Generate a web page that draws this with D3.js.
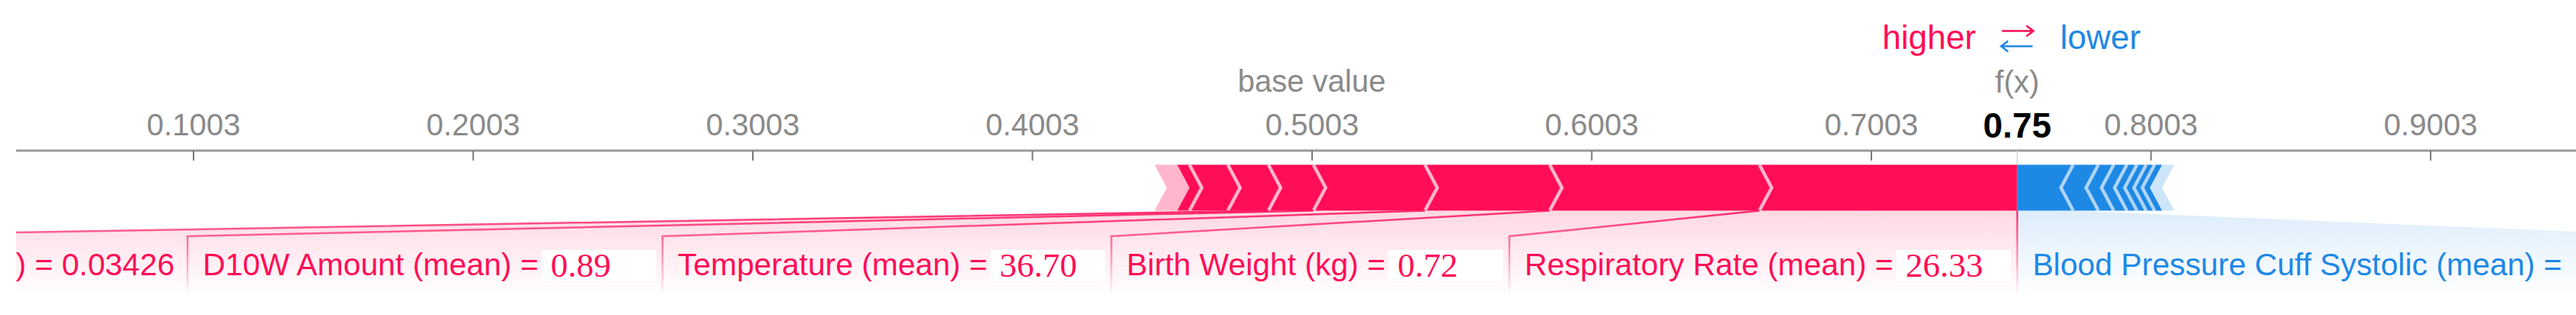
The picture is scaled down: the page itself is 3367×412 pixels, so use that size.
<!DOCTYPE html>
<html><head><meta charset="utf-8">
<script src="https://cdn.jsdelivr.net/npm/d3@7"></script>
<style>html,body{margin:0;padding:0;background:#fff;overflow:hidden}</style>
</head><body>
<svg id="chart" width="3367" height="412"></svg>
<script>
// ---------------- data ----------------
const baseValue = 0.5003;
const tickValues = [0.1003, 0.2003, 0.3003, 0.4003, 0.5003, 0.6003, 0.7003, 0.8003, 0.9003];

// features pushing the output higher, listed from f(x) leftwards
const posNames   = ["Respiratory Rate (mean)", "Birth Weight (kg)", "Temperature (mean)", "D10W Amount (mean)", "Lactate (mean)", "Feature 6", "Feature 7", "Feature 8"];
const posEffects = [0.0922, 0.0750, 0.0446, 0.0399, 0.0161, 0.0145, 0.0137, 0.0044];
const posValues  = ["26.33", "0.72", "36.70", "0.89", "0.03426", null, null, null];
const posOtherEffect = 0.0081;

// features pushing the output lower, listed from f(x) rightwards
const negNames   = ["Blood Pressure Cuff Systolic (mean)", "Feature 10", "Feature 11", "Feature 12", "Feature 13", "Feature 14", "Feature 15", "Feature 16"];
const negEffects = [0.0200, 0.0090, 0.0055, 0.0047, 0.0036, 0.0033, 0.0030, 0.0027];
const negValues  = [null, null, null, null, null, null, null, null];
const negOtherEffect = 0.0044;

// labels whose value was re-typed over a white patch in the reference
const retypedLabels = ["Respiratory Rate (mean)", "Birth Weight (kg)", "Temperature (mean)", "D10W Amount (mean)", "Blood Pressure Cuff Systolic (mean)"];
const labelThreshold = 0.015;

// ---------------- layout / style ----------------
const W = 3367, H = 412;
const RED = "#ff0d57", BLUE = "#1e88e5";
const SANS = "'Liberation Sans', Arial, Helvetica, sans-serif";
const SERIF = "'Liberation Serif', 'Times New Roman', serif";
const AXIS_Y = 197, BAR_TOP = 215.5, BAR_H = 60, TIP = 16;
const BAR_BOT = BAR_TOP + BAR_H, MID = BAR_TOP + BAR_H / 2;
const BOX_TOP = 309, FADE_END = 386, LABEL_Y = 360;
const LABEL_FS = 40.8, PADL = 20, GAP = 4, SLOT = 141, PADR = 17;

const svg = d3.select("#chart");
const x = d3.scaleLinear().domain([baseValue - 0.4, baseValue + 0.4]).range([252.5, 3176.5]);

const pos = posNames.map((name, i) => ({name, effect: posEffects[i], value: posValues[i]}));
const neg = negNames.map((name, i) => ({name, effect: negEffects[i], value: negValues[i]}));
const P = d3.sum(posEffects) + posOtherEffect;
const N = d3.sum(negEffects) + negOtherEffect;
const fx = baseValue + P - N;

let acc = fx;
pos.forEach(d => { d.hi = acc; d.lo = acc - d.effect; acc = d.lo; });
const posOther = {lo: acc - posOtherEffect, hi: acc};
acc = fx;
neg.forEach(d => { d.lo = acc; d.hi = acc + d.effect; acc = d.hi; });
const negOther = {lo: acc, hi: acc + negOtherEffect};
const fxX = x(fx);

// defs
const defs = svg.append("defs");
defs.append("clipPath").attr("id", "clip").append("rect")
  .attr("x", 21).attr("y", 0).attr("width", W - 21).attr("height", H);
function vgrad(id, color, o1) {
  const g = defs.append("linearGradient").attr("id", id).attr("gradientUnits", "userSpaceOnUse")
    .attr("x1", 0).attr("x2", 0).attr("y1", BAR_BOT).attr("y2", FADE_END);
  g.append("stop").attr("offset", 0).attr("stop-color", color).attr("stop-opacity", o1);
  g.append("stop").attr("offset", 1).attr("stop-color", color).attr("stop-opacity", 0);
}
vgrad("posFill", RED, 0.16);
vgrad("negFill", BLUE, 0.15);
vgrad("posLine", RED, 0.85);

// ---------------- axis ----------------
const gClip = svg.append("g").attr("clip-path", "url(#clip)");
gClip.append("line").attr("x1", 0).attr("x2", W).attr("y1", AXIS_Y).attr("y2", AXIS_Y)
  .attr("stroke", "#9a9a9a").attr("stroke-width", 3);

const axis = d3.axisBottom(x).tickValues(tickValues).tickFormat(d3.format(".4f")).tickSize(13);
const gAxis = svg.append("g").attr("transform", `translate(0,${AXIS_Y})`).call(axis);
gAxis.select(".domain").remove();
gAxis.attr("font-family", SANS).attr("font-size", 40);
gAxis.selectAll(".tick line").attr("stroke", "#7a7a7a").attr("stroke-width", 2);
gAxis.selectAll(".tick text").attr("y", -20).attr("dy", 0).attr("fill", "#8a8a8a");

// join line at f(x) between axis and bar
svg.append("line").attr("x1", fxX).attr("x2", fxX).attr("y1", AXIS_Y).attr("y2", BAR_TOP)
  .attr("stroke", "#d6d6d6").attr("stroke-width", 1.5);

// ---------------- bar ----------------
function posPath(a, b, flatRight) {
  return `M${a},${BAR_TOP}L${b},${BAR_TOP}` +
    (flatRight ? `L${b},${BAR_BOT}` : `L${b + TIP},${MID}L${b},${BAR_BOT}`) +
    `L${a},${BAR_BOT}L${a + TIP},${MID}Z`;
}
function negPath(a, b, flatLeft) {
  return `M${a},${BAR_TOP}L${b},${BAR_TOP}L${b - TIP},${MID}L${b},${BAR_BOT}L${a},${BAR_BOT}` +
    (flatLeft ? "" : `L${a - TIP},${MID}`) + "Z";
}
const gBar = svg.append("g");
gBar.append("path").attr("d", posPath(x(posOther.lo), x(posOther.hi), false))
  .attr("fill", RED).attr("fill-opacity", 0.3);
gBar.selectAll("path.pos").data(pos).join("path").attr("class", "pos")
  .attr("d", (d, i) => posPath(x(d.lo), x(d.hi), i === 0)).attr("fill", RED);
gBar.append("path").attr("d", negPath(x(negOther.lo), x(negOther.hi), false))
  .attr("fill", BLUE).attr("fill-opacity", 0.22);
gBar.selectAll("path.neg").data(neg).join("path").attr("class", "neg")
  .attr("d", (d, i) => negPath(x(d.lo), x(d.hi), i === 0)).attr("fill", BLUE);

// separators
gBar.selectAll("path.psep").data(pos.slice(0, pos.length - 1)).join("path").attr("class", "psep")
  .attr("d", d => { const b = x(d.lo); return `M${b},${BAR_TOP}L${b + TIP},${MID}L${b},${BAR_BOT}`; })
  .attr("fill", "none").attr("stroke", "#fff").attr("stroke-opacity", 0.68).attr("stroke-width", 4.5);
gBar.selectAll("path.nsep").data(neg.slice(0, neg.length - 1)).join("path").attr("class", "nsep")
  .attr("d", d => { const b = x(d.hi); return `M${b},${BAR_TOP}L${b - TIP},${MID}L${b},${BAR_BOT}`; })
  .attr("fill", "none").attr("stroke", "#fff").attr("stroke-opacity", 0.62).attr("stroke-width", 4.5);

// ---------------- labels layout ----------------
const meas = svg.append("text").attr("font-family", SANS).attr("font-size", LABEL_FS).attr("visibility", "hidden");
function textW(s) { meas.text(s); return meas.node().getComputedTextLength(); }
function prep(d) {
  d.retyped = retypedLabels.includes(d.name);
  d.nameStr = d.retyped ? d.name + " =" : d.name + " = " + d.value;
  d.nameW = textW(d.nameStr);
  d.boxW = PADL + (d.retyped ? d.nameW + GAP + SLOT : d.nameW) + PADR;
}
const posLab = pos.filter(d => d.effect >= labelThreshold);
const negLab = neg.filter(d => d.effect >= labelThreshold);
let cur = fxX;
posLab.forEach(d => { prep(d); d.boxR = cur; d.boxL = cur - d.boxW; cur = d.boxL; });
cur = fxX;
negLab.forEach(d => { prep(d); d.boxL = cur; d.boxR = cur + d.boxW; cur = d.boxR; });
meas.remove();

const gLab = svg.append("g").attr("clip-path", "url(#clip)");
// backings
gLab.selectAll("path.pback").data(posLab).join("path").attr("class", "pback")
  .attr("d", d => `M${x(d.lo)},${BAR_BOT}L${x(d.hi)},${BAR_BOT}L${d.boxR},${BOX_TOP}L${d.boxR},${FADE_END}L${d.boxL},${FADE_END}L${d.boxL},${BOX_TOP}Z`)
  .attr("fill", "url(#posFill)");
gLab.selectAll("path.nback").data(negLab).join("path").attr("class", "nback")
  .attr("d", d => `M${x(d.lo)},${BAR_BOT}L${x(d.hi)},${BAR_BOT}L${d.boxR},${BOX_TOP}L${d.boxR},${FADE_END}L${d.boxL},${FADE_END}L${d.boxL},${BOX_TOP}Z`)
  .attr("fill", "url(#negFill)");
// dividers
gLab.selectAll("path.pdiv").data(posLab).join("path").attr("class", "pdiv")
  .attr("d", d => `M${x(d.lo)},${BAR_BOT}L${d.boxL},${BOX_TOP}L${d.boxL},${FADE_END}`)
  .attr("fill", "none").attr("stroke", "url(#posLine)").attr("stroke-width", 2.5);
gLab.append("path").attr("d", `M${fxX},${BAR_BOT}L${fxX},${FADE_END}`)
  .attr("fill", "none").attr("stroke", "url(#posLine)").attr("stroke-width", 2.5);

// texts
function drawLabels(data, color, cls) {
  const g = gLab.selectAll("g." + cls).data(data).join("g").attr("class", cls);
  g.append("text").attr("x", d => d.boxL + PADL).attr("y", LABEL_Y)
    .attr("font-family", SANS).attr("font-size", LABEL_FS).attr("fill", color)
    .text(d => d.nameStr);
  const r = g.filter(d => d.retyped && d.value != null);
  r.append("rect").attr("x", d => d.boxL + PADL + d.nameW + GAP).attr("y", 327)
    .attr("width", SLOT + PADR / 2).attr("height", 40).attr("fill", "#fff");
  r.append("text").attr("x", d => d.boxL + PADL + d.nameW + GAP + 12).attr("y", 362)
    .attr("font-family", SERIF).attr("font-size", 45).attr("fill", color)
    .text(d => d.value);
}
drawLabels(posLab, RED, "plab");
drawLabels(negLab, BLUE, "nlab");

// ---------------- top texts ----------------
svg.append("text").attr("x", x(baseValue)).attr("y", 120).attr("text-anchor", "middle")
  .attr("font-family", SANS).attr("font-size", 40).attr("fill", "#8a8a8a").text("base value");
svg.append("text").attr("x", fxX).attr("y", 121).attr("text-anchor", "middle")
  .attr("font-family", SANS).attr("font-size", 40).attr("fill", "#8a8a8a").text("f(x)");
svg.append("text").attr("x", fxX).attr("y", 180).attr("text-anchor", "middle")
  .attr("font-family", SANS).attr("font-size", 46).attr("font-weight", "bold").attr("fill", "#000")
  .text(d3.format(".2f")(fx));

svg.append("text").attr("x", fxX - 54).attr("y", 64).attr("text-anchor", "end")
  .attr("font-family", SANS).attr("font-size", 44).attr("fill", RED).text("higher");
svg.append("text").attr("x", fxX + 56).attr("y", 64).attr("text-anchor", "start")
  .attr("font-family", SANS).attr("font-size", 44).attr("fill", BLUE).text("lower");
svg.append("path")
  .attr("d", `M${fxX - 20},40.5H${fxX + 21}M${fxX + 12},33.5L${fxX + 21},40.5L${fxX + 12},47.5`)
  .attr("fill", "none").attr("stroke", RED).attr("stroke-width", 2.6);
svg.append("path")
  .attr("d", `M${fxX + 20},60.5H${fxX - 21}M${fxX - 12},53.5L${fxX - 21},60.5L${fxX - 12},67.5`)
  .attr("fill", "none").attr("stroke", BLUE).attr("stroke-width", 2.6);
</script>
</body></html>
